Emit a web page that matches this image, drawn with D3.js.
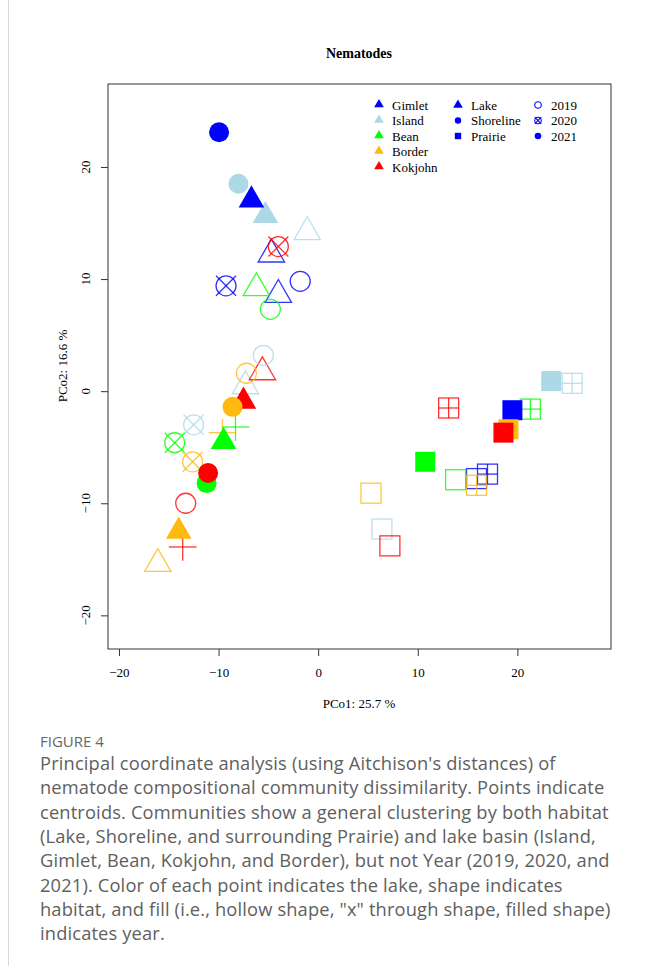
<!DOCTYPE html>
<html>
<head>
<meta charset="utf-8">
<script src="https://cdn.jsdelivr.net/npm/d3@7"></script>
<style>
  html, body { margin: 0; padding: 0; background: #fff; }
  svg { display: block; }
</style>
</head>
<body>
<svg id="chart" width="648" height="966"></svg>
<script>
// ---------------- DATA ----------------
const lakeNames = ["Gimlet", "Island", "Bean", "Border", "Kokjohn"];
const lakeColors = ["#0000FF", "#ADD8E6", "#00FF00", "#FFB90F", "#FF0000"];
const habitatNames = ["Lake", "Shoreline", "Prairie"];
const yearNames = ["2019", "2020", "2021"];
const fillTypes = ["open", "cross", "filled"];
const xTicks = [-20, -10, 0, 10, 20];
const yTicks = [-20, -10, 0, 10, 20];

// per point (drawing order as in figure)
const pointLake = [
  "Gimlet","Gimlet","Island","Island","Bean","Border","Kokjohn",
  "Gimlet","Island","Bean","Border","Kokjohn",
  "Gimlet","Island","Bean","Border","Kokjohn",
  "Bean","Border","Kokjohn",
  "Gimlet","Island","Bean","Border","Kokjohn",
  "Gimlet","Island","Bean","Border","Kokjohn",
  "Island","Gimlet","Island","Gimlet","Kokjohn","Bean","Border",
  "Border","Bean","Kokjohn",
  "Island","Bean","Gimlet","Border","Kokjohn"
];
const pointHabitat = [
  "Lake","Lake","Lake","Lake","Lake","Lake","Lake",
  "Shoreline","Shoreline","Shoreline","Shoreline","Shoreline",
  "Prairie","Prairie","Prairie","Prairie","Prairie",
  "Lake","Lake","Lake",
  "Shoreline","Shoreline","Shoreline","Shoreline","Shoreline",
  "Prairie","Prairie","Prairie","Prairie","Prairie",
  "Shoreline","Shoreline","Lake","Lake","Lake","Lake","Lake",
  "Shoreline","Shoreline","Shoreline",
  "Prairie","Prairie","Prairie","Prairie","Prairie"
];
const pointFill = [
  "open","open","open","open","open","open","open",
  "open","open","open","open","open",
  "open","open","open","open","open",
  "cross","cross","cross",
  "cross","cross","cross","cross","cross",
  "cross","cross","cross","cross","cross",
  "filled","filled","filled","filled","filled","filled","filled",
  "filled","filled","filled",
  "filled","filled","filled","filled","filled"
];
const pco1 = [
  -4.7, -4.0, -1.1, -7.3, -6.2, -16.1, -5.6,
  -1.8, -5.5, -4.8, -7.2, -13.3,
  15.9, 6.4, 13.8, 5.3, 7.2,
  -8.3, -9.6, -13.6,
  -9.25, -12.5, -14.4, -12.6, -4.0,
  17.0, 25.5, 21.3, 15.9, 13.1,
  -8.0, -9.95, -5.3, -6.7, -7.5, -9.5, -14.0,
  -8.6, -11.2, -11.05,
  23.4, 10.75, 19.5, 19.1, 18.6
];
const pco2 = [
  12.2, 8.6, 14.2, 0.45, 9.2, -15.4, 1.7,
  9.8, 3.2, 7.3, 1.6, -10.0,
  -7.8, -12.3, -7.9, -9.1, -13.8,
  -3.2, -3.7, -13.9,
  9.4, -3.0, -4.6, -6.3, 12.9,
  -7.4, 0.7, -1.6, -8.4, -1.5,
  18.5, 23.1, 15.65, 17.05, -0.9, -4.5, -12.5,
  -1.4, -8.2, -7.3,
  0.9, -6.3, -1.7, -3.4, -3.7
];

// ---------------- LAYOUT ----------------
const svg = d3.select("#chart");
const box = { left: 108, right: 611, top: 84, bottom: 649 };
const x = d3.scaleLinear().domain([-21.1, 29.4]).range([box.left, box.right]);
const y = d3.scaleLinear().domain([-23.0, 27.4]).range([box.bottom, box.top]);
const color = d3.scaleOrdinal().domain(lakeNames).range(lakeColors);
const serif = "'Liberation Serif', 'Times New Roman', serif";

// page left border
svg.append("line").attr("x1", 8.5).attr("x2", 8.5).attr("y1", 0).attr("y2", 966)
  .attr("stroke", "#d9d9d9").attr("stroke-width", 1);

// title
svg.append("text").attr("x", 359).attr("y", 58).attr("text-anchor", "middle")
  .attr("font-family", serif).attr("font-weight", "bold").attr("font-size", 14)
  .text("Nematodes");

// plot box
svg.append("rect").attr("x", box.left).attr("y", box.top)
  .attr("width", box.right - box.left).attr("height", box.bottom - box.top)
  .attr("fill", "none").attr("stroke", "#333").attr("stroke-width", 1);

const fmt = d => d < 0 ? "\u2212" + Math.abs(d) : String(d);

// x axis
const gx = svg.append("g").attr("transform", `translate(0,${box.bottom})`)
  .call(d3.axisBottom(x).tickValues(xTicks).tickSize(7).tickPadding(12).tickFormat(fmt));
gx.select(".domain").remove();
gx.selectAll("line").attr("stroke", "#333");
gx.selectAll("text").attr("font-family", serif).attr("font-size", 13).attr("fill", "#000");

// y axis
const gy = svg.append("g").attr("transform", `translate(${box.left},0)`)
  .call(d3.axisLeft(y).tickValues(yTicks).tickSize(7).tickFormat(""));
gy.select(".domain").remove();
gy.selectAll("line").attr("stroke", "#333");
svg.append("g").selectAll("text").data(yTicks).join("text")
  .attr("transform", d => `translate(90,${y(d)}) rotate(-90)`)
  .attr("text-anchor", "middle")
  .attr("font-family", serif).attr("font-size", 13)
  .text(fmt);

// axis labels
svg.append("text").attr("x", 359).attr("y", 708).attr("text-anchor", "middle")
  .attr("font-family", serif).attr("font-size", 13).text("PCo1:  25.7 %");
svg.append("text").attr("transform", `translate(67,366) rotate(-90)`).attr("text-anchor", "middle")
  .attr("font-family", serif).attr("font-size", 13).text("PCo2:  16.6 %");

// ---------------- MARKS ----------------
function drawMark(g, habitat, fill, col, r) {
  const sw = 1.3, so = 0.8;
  const strokeIt = s => s.attr("fill", "none").attr("stroke", col).attr("stroke-width", sw).attr("stroke-opacity", so);
  const line = (x1, y1, x2, y2) => strokeIt(g.append("line").attr("x1", x1).attr("y1", y1).attr("x2", x2).attr("y2", y2));
  if (habitat === "Lake") {
    const pts = [[0, -1.555 * r], [-1.3468 * r, 0.7776 * r], [1.3468 * r, 0.7776 * r]];
    if (fill === "cross") {
      const a = 1.414 * r;
      line(-a, 0, a, 0); line(0, -a, 0, a);
    } else {
      const p = g.append("path").attr("d", "M" + pts.join("L") + "Z");
      if (fill === "filled") p.attr("fill", col).attr("stroke", "none");
      else strokeIt(p);
    }
  } else if (habitat === "Shoreline") {
    const c = g.append("circle").attr("r", r);
    if (fill === "filled") c.attr("fill", col);
    else {
      strokeIt(c);
      if (fill === "cross") { line(-r, -r, r, r); line(-r, r, r, -r); }
    }
  } else {
    const s = g.append("rect").attr("x", -r).attr("y", -r).attr("width", 2 * r).attr("height", 2 * r);
    if (fill === "filled") s.attr("fill", col);
    else {
      strokeIt(s);
      if (fill === "cross") { line(-r, 0, r, 0); line(0, -r, 0, r); }
    }
  }
}

const pts = pco1.map((v, i) => ({ lake: pointLake[i], habitat: pointHabitat[i], fill: pointFill[i], x: v, y: pco2[i] }));
const gp = svg.append("g");
pts.forEach(d => {
  const g = gp.append("g").attr("transform", `translate(${x(d.x)},${y(d.y)})`);
  const rr = d.habitat === "Lake" ? (d.fill === "filled" ? 9.5 : 9.8) : 10;
  drawMark(g, d.habitat, d.fill, color(d.lake), rr);
});

// ---------------- LEGEND ----------------
const leg = svg.append("g").attr("font-family", serif).attr("font-size", 13);
const rowY = i => 105 + i * 15.5;
lakeNames.forEach((n, i) => {
  const g = leg.append("g").attr("transform", `translate(379,${rowY(i) - 0.5})`);
  drawMark(g, "Lake", "filled", color(n), 3.6);
  leg.append("text").attr("x", 392).attr("y", rowY(i) + 4.5).text(n);
});
habitatNames.forEach((n, i) => {
  const g = leg.append("g").attr("transform", `translate(458,${rowY(i)})`);
  drawMark(g, n, "filled", "#0000FF", n === "Lake" ? 3.6 : 3.2);
  leg.append("text").attr("x", 471).attr("y", rowY(i) + 4.5).text(n);
});
yearNames.forEach((n, i) => {
  const g = leg.append("g").attr("transform", `translate(538,${rowY(i)})`);
  const gg = g.append("g");
  drawMark(gg, "Shoreline", fillTypes[i], "#0000FF", 3.3);
  gg.selectAll("*").attr("stroke-opacity", 1).attr("stroke-width", 1.1);
  leg.append("text").attr("x", 551).attr("y", rowY(i) + 4.5).text(n);
});

// ---------------- CAPTION ----------------
svg.append("text").attr("x", 40).attr("y", 747)
  .attr("font-family", "'Open Sans', sans-serif").attr("font-size", 15).attr("fill", "#666")
  .text("FIGURE 4");
const captionLines = [
  "Principal coordinate analysis (using Aitchison's distances) of",
  "nematode compositional community dissimilarity. Points indicate",
  "centroids. Communities show a general clustering by both habitat",
  "(Lake, Shoreline, and surrounding Prairie) and lake basin (Island,",
  "Gimlet, Bean, Kokjohn, and Border), but not Year (2019, 2020, and",
  "2021). Color of each point indicates the lake, shape indicates",
  "habitat, and fill (i.e., hollow shape, \"x\" through shape, filled shape)",
  "indicates year."
];
svg.append("g").selectAll("text").data(captionLines).join("text")
  .attr("x", 40).attr("y", (d, i) => 770 + i * 24.3)
  .attr("font-family", "'Open Sans', sans-serif").attr("font-size", 18.3)
  .attr("letter-spacing", 0.15).attr("fill", "#606060")
  .text(d => d);
</script>
</body>
</html>
